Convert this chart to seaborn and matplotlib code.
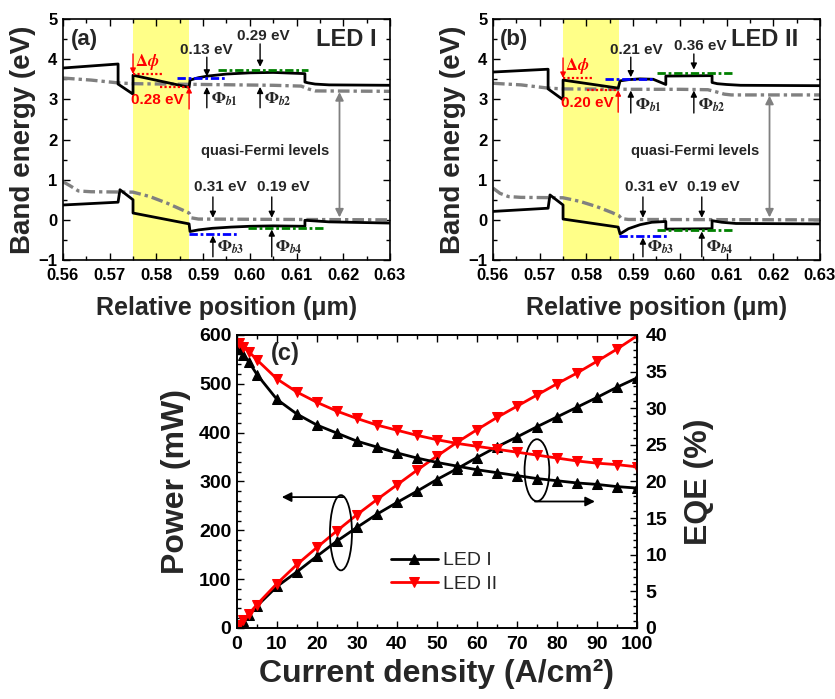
import matplotlib
matplotlib.use("Agg")
import matplotlib.pyplot as plt
import seaborn as sns
from matplotlib.patches import Ellipse
from matplotlib.ticker import MultipleLocator, FormatStrFormatter

# ---------------- band diagrams (position in um, energy in eV) ----------------
# LED I
cb1_x = [0.56, 0.5718, 0.5718, 0.575, 0.575, 0.587, 0.5872, 0.589, 0.591, 0.595, 0.600, 0.605, 0.6118, 0.6118, 0.6125, 0.614, 0.617, 0.63]
cb1_y = [3.78, 3.88, 3.38, 3.13, 3.60, 3.30, 3.48, 3.54, 3.58, 3.63, 3.66, 3.67, 3.64, 3.43, 3.41, 3.38, 3.36, 3.35]
vb1_x = [0.56, 0.5718, 0.5722, 0.575, 0.575, 0.587, 0.5872, 0.589, 0.592, 0.596, 0.600, 0.605, 0.6118, 0.6118, 0.617, 0.63]
vb1_y = [0.37, 0.44, 0.75, 0.50, 0.17, -0.10, -0.29, -0.25, -0.21, -0.18, -0.16, -0.15, -0.16, -0.01, -0.05, -0.08]
efn1_x = [0.56, 0.566, 0.5718, 0.575, 0.59, 0.605, 0.611, 0.6125, 0.614, 0.63]
efn1_y = [3.53, 3.48, 3.41, 3.39, 3.37, 3.35, 3.33, 3.26, 3.21, 3.20]
efp1_x = [0.56, 0.5615, 0.5633, 0.566, 0.575, 0.5786, 0.5822, 0.5855, 0.587, 0.5875, 0.589, 0.63]
efp1_y = [0.95, 0.85, 0.72, 0.70, 0.69, 0.58, 0.42, 0.25, 0.17, 0.05, 0.02, 0.00]

# LED II
cb2_x = [0.56, 0.5718, 0.5718, 0.575, 0.575, 0.5868, 0.5872, 0.589, 0.5915, 0.5943, 0.597, 0.597, 0.6069, 0.6069, 0.608, 0.610, 0.613, 0.63]
cb2_y = [3.68, 3.75, 3.26, 2.99, 3.48, 3.28, 3.46, 3.49, 3.51, 3.50, 3.37, 3.58, 3.59, 3.42, 3.39, 3.37, 3.35, 3.34]
vb2_x = [0.56, 0.5718, 0.5722, 0.575, 0.575, 0.5868, 0.5872, 0.589, 0.5915, 0.594, 0.597, 0.597, 0.6069, 0.6069, 0.609, 0.612, 0.63]
vb2_y = [0.21, 0.29, 0.62, 0.37, 0.02, -0.18, -0.35, -0.22, -0.12, -0.06, -0.04, -0.23, -0.22, -0.02, -0.06, -0.09, -0.10]
efn2_x = [0.56, 0.566, 0.5718, 0.575, 0.59, 0.600, 0.606, 0.608, 0.6095, 0.611, 0.63]
efn2_y = [3.40, 3.36, 3.28, 3.26, 3.25, 3.25, 3.24, 3.18, 3.13, 3.11, 3.11]
efp2_x = [0.56, 0.5615, 0.5633, 0.566, 0.575, 0.5786, 0.5822, 0.5855, 0.587, 0.5875, 0.589, 0.63]
efp2_y = [0.79, 0.66, 0.58, 0.56, 0.55, 0.46, 0.33, 0.18, 0.10, 0.03, 0.01, 0.00]

# barrier reference levels (eV)
led1_levels = dict(dphi_hi=3.63, dphi_lo=3.31, b1=3.53, b2=3.73, b3=-0.35, b4=-0.20)
led2_levels = dict(dphi_hi=3.53, dphi_lo=3.23, b1=3.51, b2=3.66, b3=-0.40, b4=-0.25)
led1_texts = dict(dphi="0.28 eV", b1="0.13 eV", b2="0.29 eV", b3="0.31 eV", b4="0.19 eV")
led2_texts = dict(dphi="0.20 eV", b1="0.21 eV", b2="0.36 eV", b3="0.31 eV", b4="0.19 eV")

# ---------------- output power and EQE vs current density ----------------
current = [0.5, 1.5, 3, 5, 10, 15, 20, 25, 30, 35, 40, 45, 50, 55, 60, 65, 70, 75, 80, 85, 90, 95, 100]
power_led1 = [5, 14, 27, 45, 85, 115, 147, 178, 206, 233, 257, 280, 304, 326, 349, 371, 391, 412, 432, 452, 472, 493, 512]
power_led2 = [6, 16, 29, 48, 91, 130, 165, 199, 232, 263, 293, 323, 352, 380, 406, 431, 454, 477, 500, 522, 546, 571, 598]
eqe_led1 = [38.1, 37.3, 36.3, 34.6, 31.2, 29.2, 27.7, 26.6, 25.5, 24.7, 23.9, 23.2, 22.6, 22.1, 21.6, 21.2, 20.8, 20.4, 20.1, 19.8, 19.6, 19.3, 19.1]
eqe_led2 = [38.9, 38.4, 37.7, 36.6, 34.0, 32.2, 30.8, 29.6, 28.6, 27.7, 27.0, 26.3, 25.7, 25.2, 24.8, 24.4, 24.0, 23.6, 23.2, 22.8, 22.5, 22.3, 22.0]
series_names = ["LED I", "LED II"]

sns.set_theme(style="ticks")
plt.rcParams["font.family"] = ["Liberation Sans", "DejaVu Sans"]
plt.rcParams["font.weight"] = "bold"
plt.rcParams["axes.labelweight"] = "bold"
plt.rcParams["axes.linewidth"] = 1.2
plt.rcParams["axes.edgecolor"] = "black"

YELLOW = "#ffff88"
GRAY = "#808080"
FERMI_DASH = (0, (3.5, 1.2, 1.0, 1.2))
BAR_DASH = (0, (3.0, 1.0, 1.0, 1.0))

fig = plt.figure(figsize=(8.35, 6.99), dpi=100)
ax_a = fig.add_axes([0.0754, 0.628, 0.3916, 0.3448])
ax_b = fig.add_axes([0.5904, 0.628, 0.3916, 0.3448])
ax_c = fig.add_axes([0.2838, 0.1016, 0.479, 0.4192])


def arrow(ax, x, y0, y1, color="black", lw=1.0, ms=9):
    ax.annotate("", xy=(x, y1), xytext=(x, y0),
                arrowprops=dict(arrowstyle="-|>", color=color, lw=lw,
                                mutation_scale=ms, shrinkA=0, shrinkB=0))


def phi_label(ax, x, y, sub):
    ax.text(x, y, r"$\mathit{\Phi}_{\mathit{" + sub + "}}$", fontsize=12, fontweight="normal",
            math_fontfamily="stix", ha="left", va="center")


def band_panel(ax, cb, vb, efn, efp, lv, tx, tag, name, anno):
    ax.axvspan(0.575, 0.587, color=YELLOW, lw=0, zorder=0)
    for xs, ys in (efn, efp):
        sns.lineplot(x=xs, y=ys, ax=ax, estimator=None, sort=False,
                     color=GRAY, lw=2.4, linestyle=FERMI_DASH, zorder=2)
    for xs, ys in (cb, vb):
        sns.lineplot(x=xs, y=ys, ax=ax, estimator=None, sort=False,
                     color="black", lw=2.0, zorder=3)

    # barrier reference levels
    xb1, xb2, xb3, xb4 = anno["spans"]
    ax.plot(xb1, [lv["b1"]] * 2, color="#0000ff", lw=2.0, linestyle=BAR_DASH, zorder=4)
    ax.plot(xb2, [lv["b2"]] * 2, color="#008000", lw=2.0, linestyle=BAR_DASH, zorder=4)
    ax.plot(xb3, [lv["b3"]] * 2, color="#0000ff", lw=2.0, linestyle=BAR_DASH, zorder=4)
    ax.plot(xb4, [lv["b4"]] * 2, color="#008000", lw=2.0, linestyle=BAR_DASH, zorder=4)

    # polarization offset at the last barrier
    ax.plot([0.575, 0.5815], [lv["dphi_hi"]] * 2, color="red", lw=1.6, linestyle=(0, (1, 1)), zorder=4)
    ax.plot([anno["dlo_x0"], anno["dlo_x1"]], [lv["dphi_lo"]] * 2, color="red", lw=1.6,
            linestyle=(0, (1, 1)), zorder=4)
    arrow(ax, 0.575, lv["dphi_hi"] + 0.5, lv["dphi_hi"], color="red", lw=1.0, ms=8)
    arrow(ax, anno["dlo_x1"], lv["dphi_lo"] - 0.55, lv["dphi_lo"], color="red", lw=1.0, ms=8)
    ax.text(0.5754, lv["dphi_hi"] + 0.3, r"$\mathit{\Delta\phi}$", color="red", fontsize=12,
            fontweight="normal", math_fontfamily="stix", ha="left", va="center")
    ax.text(anno["dtxt_x"], lv["dphi_lo"] - 0.33, tx["dphi"], color="red", fontsize=11,
            fontweight="bold", ha="center", va="center")

    # barrier heights
    ax1, ax2, ax3, ax4 = anno["arrow_x"]
    arrow(ax, ax1, 4.05, lv["b1"] + 0.04)
    arrow(ax, ax2, anno["b2_top"], lv["b2"] + 0.08)
    ax.text(anno["t1_x"], 4.23, tx["b1"], fontsize=11, fontweight="bold", ha="center", va="center")
    ax.text(anno["t2_x"], anno["b2_top"] + 0.2, tx["b2"], fontsize=11, fontweight="bold",
            ha="center", va="center")
    arrow(ax, ax1, anno["phi_low"], anno["phi_up"])
    arrow(ax, ax2, anno["phi_low"], anno["phi_up"])
    phi_label(ax, ax1 + 0.0008, anno["phi_low"] + 0.2, "b1")
    phi_label(ax, ax2 + 0.0008, anno["phi_low"] + 0.2, "b2")

    arrow(ax, ax3, 0.57, 0.05)
    arrow(ax, ax4, 0.57, 0.05)
    ax.text(anno["t3_x"], 0.82, tx["b3"], fontsize=11, fontweight="bold", ha="center", va="center")
    ax.text(anno["t4_x"], 0.82, tx["b4"], fontsize=11, fontweight="bold", ha="center", va="center")
    arrow(ax, ax3, -0.92, lv["b3"] - 0.04)
    arrow(ax, ax4, -0.92, lv["b4"] - 0.04)
    phi_label(ax, ax3 + 0.0008, -0.68, "b3")
    phi_label(ax, ax4 + 0.0008, -0.68, "b4")

    # quasi-Fermi level separation
    ax.annotate("", xy=(0.6192, 0.06), xytext=(0.6192, efn[1][-1] - 0.02),
                arrowprops=dict(arrowstyle="<|-|>", color=GRAY, lw=1.3, mutation_scale=12,
                                shrinkA=0, shrinkB=0))
    ax.text(0.6033, 1.72, "quasi-Fermi levels", fontsize=10.5, fontweight="bold",
            ha="center", va="center")

    ax.text(0.5645, 4.5, tag, fontsize=16, fontweight="bold", ha="center", va="center")
    ax.text(anno["name_x"], 4.5, name, fontsize=17, fontweight="bold", ha="center", va="center")

    ax.set_xlim(0.56, 0.63)
    ax.set_ylim(-1, 5)
    ax.xaxis.set_major_locator(MultipleLocator(0.01))
    ax.xaxis.set_minor_locator(MultipleLocator(0.005))
    ax.xaxis.set_major_formatter(FormatStrFormatter("%.2f"))
    ax.yaxis.set_major_locator(MultipleLocator(1))
    ax.yaxis.set_minor_locator(MultipleLocator(0.5))
    ax.tick_params(which="both", direction="in", top=True, right=True, colors="black",
                   labelsize=12)
    ax.tick_params(axis="x", pad=6)
    ax.tick_params(axis="y", pad=4)
    ax.tick_params(which="major", length=5, width=1.0)
    ax.tick_params(which="minor", length=3, width=1.0)
    ax.set_xlabel("Relative position (\u03bcm)", fontsize=18, labelpad=9)
    ax.set_ylabel("Band energy (eV)", fontsize=20, labelpad=2)


band_panel(ax_a, (cb1_x, cb1_y), (vb1_x, vb1_y), (efn1_x, efn1_y), (efp1_x, efp1_y),
           led1_levels, led1_texts, "(a)", "LED I",
           dict(spans=([0.5844, 0.5947], [0.5932, 0.6124], [0.587, 0.5975], [0.5996, 0.6161]),
                dlo_x0=0.5808, dlo_x1=0.587, dtxt_x=0.5801,
                arrow_x=(0.5908, 0.6022, 0.5921, 0.6047),
                b2_top=4.38, t1_x=0.5906, t2_x=0.6028, t3_x=0.5937, t4_x=0.6071,
                phi_low=2.79, phi_up=3.31, name_x=0.6206))
band_panel(ax_b, (cb2_x, cb2_y), (vb2_x, vb2_y), (efn2_x, efn2_y), (efp2_x, efp2_y),
           led2_levels, led2_texts, "(b)", "LED II",
           dict(spans=([0.584, 0.5943], [0.5951, 0.6114], [0.587, 0.5975], [0.5951, 0.6114]),
                dlo_x0=0.5802, dlo_x1=0.5868, dtxt_x=0.5801,
                arrow_x=(0.5895, 0.6030, 0.5921, 0.6047),
                b2_top=4.13, t1_x=0.5906, t2_x=0.6043, t3_x=0.5938, t4_x=0.6071,
                phi_low=2.66, phi_up=3.22, name_x=0.6182))

# ---------------- panel (c) ----------------
ax_e = ax_c.twinx()
styles = [("black", "^"), ("red", "v")]
handles = []
for (col, mk), pw, eq, nm in zip(styles, [power_led1, power_led2], [eqe_led1, eqe_led2], series_names):
    sns.lineplot(x=current, y=pw, ax=ax_c, color=col, marker=mk, markersize=7,
                 markeredgecolor=col, lw=2.0, estimator=None, legend=False)
    handles.append(ax_c.lines[-1])
    sns.lineplot(x=current, y=eq, ax=ax_e, color=col, marker=mk, markersize=7,
                 markeredgecolor=col, lw=2.0, estimator=None, legend=False)

ax_c.set_xlim(0, 100)
ax_c.set_ylim(0, 600)
ax_e.set_ylim(0, 40)
ax_c.xaxis.set_major_locator(MultipleLocator(10))
ax_c.xaxis.set_minor_locator(MultipleLocator(5))
ax_c.yaxis.set_major_locator(MultipleLocator(100))
ax_c.yaxis.set_minor_locator(MultipleLocator(20))
ax_e.yaxis.set_major_locator(MultipleLocator(5))
ax_e.yaxis.set_minor_locator(MultipleLocator(1))
ax_c.tick_params(which="both", direction="in", top=True, right=False, colors="black",
                 labelsize=14)
ax_c.tick_params(axis="x", pad=6)
ax_c.tick_params(axis="y", pad=4)
ax_e.tick_params(which="both", direction="in", colors="black", labelsize=14, pad=6)
for a in (ax_c, ax_e):
    a.tick_params(which="major", length=5, width=1.0)
    a.tick_params(which="minor", length=3, width=1.0)
ax_c.set_xlabel("Current density (A/cm\u00b2)", fontsize=23, labelpad=4)
ax_c.set_ylabel("Power (mW)", fontsize=23, labelpad=6)
ax_e.set_ylabel("EQE (%)", fontsize=23, labelpad=12)

ax_c.text(12, 563, "(c)", fontsize=17, fontweight="bold", ha="center", va="center")

# grouping ellipses with arrows to the matching axis
ax_c.add_patch(Ellipse((26, 195), 5.5, 154, fill=False, ec="black", lw=1.3, zorder=5))
ax_c.annotate("", xy=(11.2, 268), xytext=(26.6, 268),
              arrowprops=dict(arrowstyle="-|>", color="black", lw=1.3, mutation_scale=14,
                              shrinkA=0, shrinkB=0))
ax_c.add_patch(Ellipse((75, 323), 6.2, 127, fill=False, ec="black", lw=1.3, zorder=5))
ax_c.annotate("", xy=(89.5, 259), xytext=(74.5, 259),
              arrowprops=dict(arrowstyle="-|>", color="black", lw=1.3, mutation_scale=14,
                              shrinkA=0, shrinkB=0))

ax_c.legend(handles, series_names, loc="center left", bbox_to_anchor=(0.385, 0.19),
            frameon=False, borderpad=0, borderaxespad=0, handlelength=2.4,
            handletextpad=0.3, labelspacing=0.3,
            prop={"family": ["Liberation Sans Narrow", "Liberation Sans"], "weight": "normal", "size": 14})

fig.savefig("out.png", dpi=100)
